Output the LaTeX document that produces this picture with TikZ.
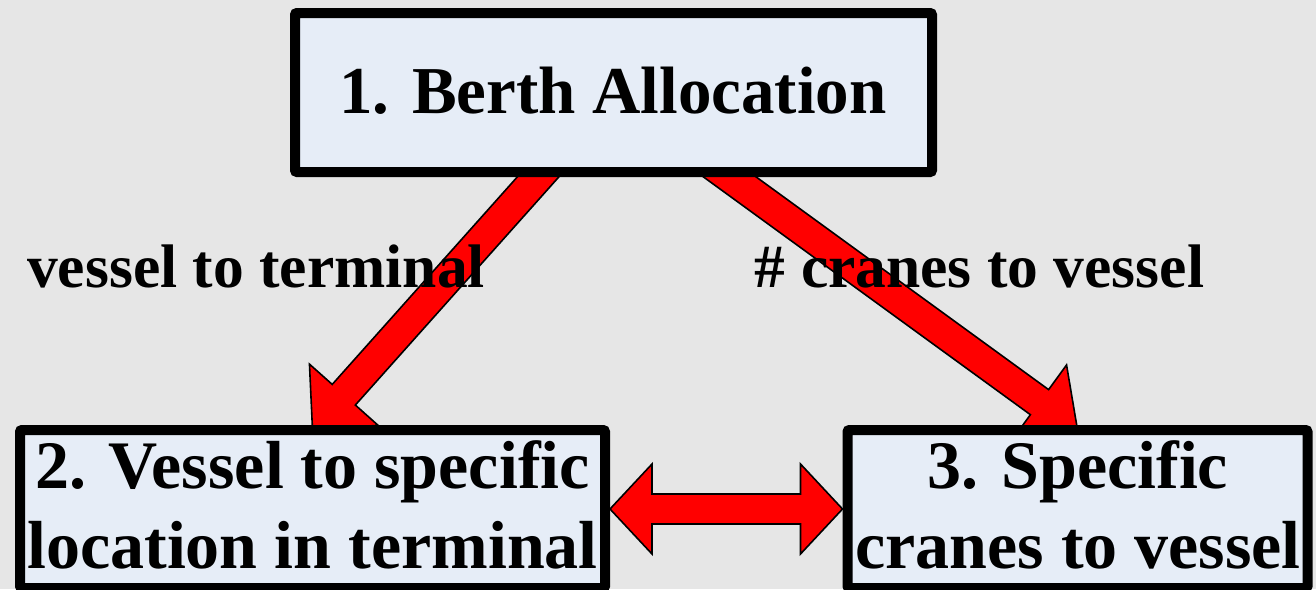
\documentclass[tikz,border=0pt]{standalone}
\usepackage{fontspec}
\setmainfont{Liberation Serif}
\usetikzlibrary{calc}
\definecolor{bgcol}{HTML}{E6E6E6}
\definecolor{boxfill}{HTML}{E6EDF7}
\definecolor{arrred}{HTML}{FF0000}
\tikzset{
  boxstyle/.style={draw=black, line width=10pt, fill=boxfill, rounded corners=2pt, inner sep=0pt},
  txt/.style={font=\bfseries\fontsize{68}{80}\selectfont, inner sep=0pt, anchor=base},
  lbl/.style={font=\bfseries\fontsize{61.5}{70}\selectfont, inner sep=0pt, anchor=base},
  fatarr/.style={draw=black, line width=1.6pt, fill=arrred, line join=miter}
}
% #1 tail, #2 tip, #3 half shaft, #4 head length, #5 half head
\newcommand{\myfatarrow}[5]{%
  \coordinate (fa-h) at ($(#2)!#4!(#1)$);
  \draw[fatarr] ($(#1)!#3!90:(#2)$) -- ($(fa-h)!#3!-90:(#1)$) -- ($(fa-h)!#5!-90:(#1)$) -- (#2)
    -- ($(fa-h)!#5!90:(#1)$) -- ($(fa-h)!#3!90:(#1)$) -- ($(#1)!#3!-90:(#2)$) -- cycle;}
% double-headed: #1 one tip, #2 other tip
\newcommand{\mydblarrow}[5]{%
  \coordinate (da-a) at ($(#1)!#4!(#2)$);
  \coordinate (da-b) at ($(#2)!#4!(#1)$);
  \draw[fatarr] (#1) -- ($(da-a)!#5!90:(#2)$) -- ($(da-a)!#3!90:(#2)$) -- ($(da-b)!#3!-90:(#1)$)
    -- ($(da-b)!#5!-90:(#1)$) -- (#2) -- ($(da-b)!#5!90:(#1)$) -- ($(da-b)!#3!90:(#1)$)
    -- ($(da-a)!#3!-90:(#2)$) -- ($(da-a)!#5!-90:(#2)$) -- cycle;}
\begin{document}
\begin{tikzpicture}[x=1pt,y=-1pt]
\useasboundingbox (0,0) rectangle (1316,589);
\clip (0,0) rectangle (1316,589);
\fill[bgcol] (0,0) rectangle (1316,589);
% box geometry (drawn after arrows)
\path (613.5,92.5) node[minimum width=637pt, minimum height=159pt] (p1) {};
\path (312.5,509) node[minimum width=585pt, minimum height=158pt] (p2) {};
\path (1077.5,509) node[minimum width=460pt, minimum height=158pt] (p3) {};
\coordinate (s1) at (571,140);
\coordinate (s2) at (679,140);
% arrows
\myfatarrow{s1}{p2.north}{15.5pt}{47pt}{46pt}
\myfatarrow{s2}{p3.north}{15.5pt}{47pt}{46pt}
% boxes
\node[boxstyle, minimum width=637pt, minimum height=159pt] (b1) at (613.5,92.5) {};
\node[boxstyle, minimum width=585pt, minimum height=158pt] (b2) at (312.5,509) {};
\node[boxstyle, minimum width=460pt, minimum height=158pt] (b3) at (1077.5,509) {};
\mydblarrow{b2.east}{b3.west}{15pt}{42pt}{45pt}
% texts
\node[txt, font=\bfseries\fontsize{67}{80}\selectfont] (t1) at (613,113) {1. Berth Allocation};
\node[txt] (t2a) at (312.5,488) {2. Vessel to specific};
\node[txt] (t2b) at (312.5,568) {location in terminal};
\node[txt] (t3a) at (1078,488) {3. Specific};
\node[txt] (t3b) at (1078,568) {cranes to vessel};
\node[lbl] (l1) at (256,287) {vessel to terminal};
\node[lbl] (l2) at (979.5,287) {\# cranes to vessel};
\end{tikzpicture}
\end{document}
